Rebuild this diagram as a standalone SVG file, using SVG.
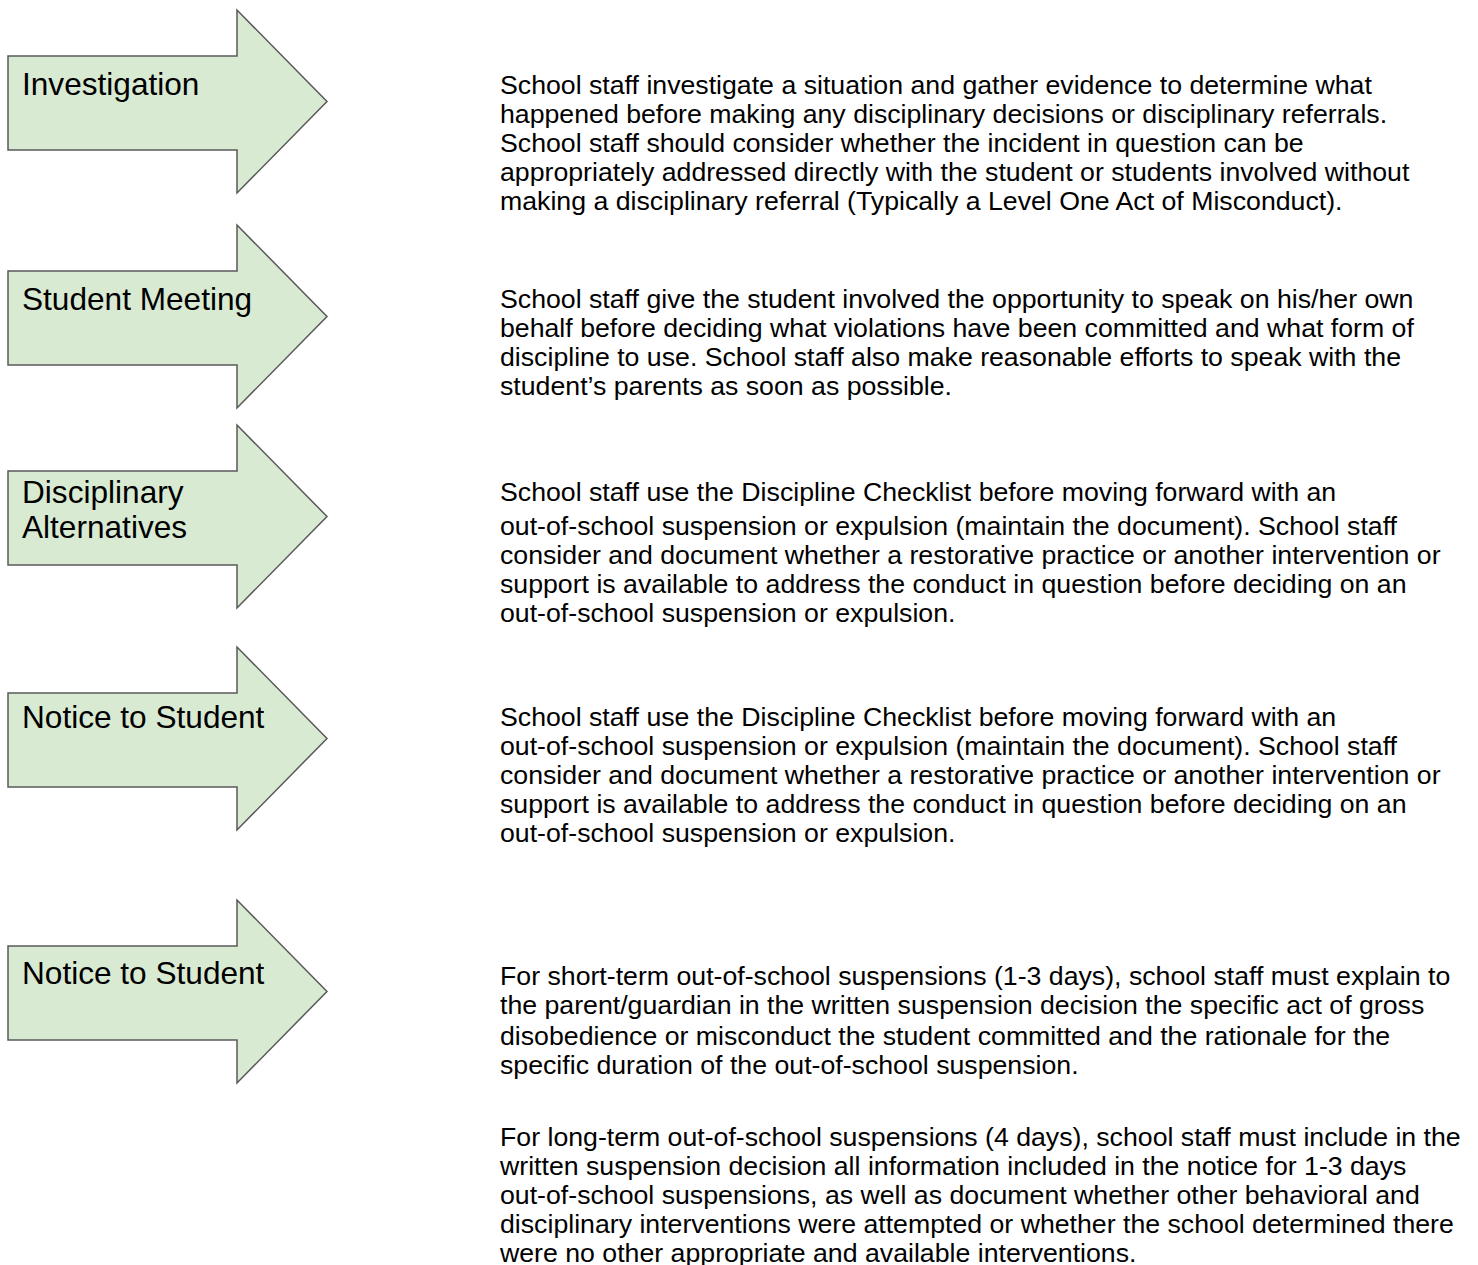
<svg xmlns="http://www.w3.org/2000/svg" width="1478" height="1265" viewBox="0 0 1478 1265">
<style>
.arrow{fill:#d9ead3;stroke:#595959;stroke-width:1.5;stroke-linejoin:miter}
.lbl{font-family:"Liberation Sans",Arial,sans-serif;font-size:31.6px;fill:#000}
.body{font-family:"Liberation Sans",Arial,sans-serif;font-size:26.7px;fill:#000}
</style>
<rect width="1478" height="1265" fill="#fff"/>
<defs>
<path id="arr" d="M8,46 H237 V0 L327,91.5 L237,183 V140 H8 Z"/>
</defs>
<g id="node-investigation">
<use href="#arr" class="arrow" x="0" y="10"/>
<text class="lbl" x="22" y="95">Investigation</text>
</g>
<g id="node-student-meeting">
<use href="#arr" class="arrow" x="0" y="225"/>
<text class="lbl" x="22" y="310">Student Meeting</text>
</g>
<g id="node-disciplinary-alternatives">
<use href="#arr" class="arrow" x="0" y="425"/>
<text class="lbl" x="22" y="503">Disciplinary</text>
<text class="lbl" x="22" y="538">Alternatives</text>
</g>
<g id="node-notice-1">
<use href="#arr" class="arrow" x="0" y="647"/>
<text class="lbl" x="22" y="728">Notice to Student</text>
</g>
<g id="node-notice-2">
<use href="#arr" class="arrow" x="0" y="900"/>
<text class="lbl" x="22" y="984">Notice to Student</text>
</g>
<g id="desc-investigation" class="body">
<text x="500" y="94">School staff investigate a situation and gather evidence to determine what</text>
<text x="500" y="123">happened before making any disciplinary decisions or disciplinary referrals.</text>
<text x="500" y="152">School staff should consider whether the incident in question can be</text>
<text x="500" y="181">appropriately addressed directly with the student or students involved without</text>
<text x="500" y="210">making a disciplinary referral (Typically a Level One Act of Misconduct).</text>
</g>
<g id="desc-student-meeting" class="body">
<text x="500" y="308">School staff give the student involved the opportunity to speak on his/her own</text>
<text x="500" y="337">behalf before deciding what violations have been committed and what form of</text>
<text x="500" y="366">discipline to use. School staff also make reasonable efforts to speak with the</text>
<text x="500" y="395">student’s parents as soon as possible.</text>
</g>
<g id="desc-disciplinary-alternatives" class="body">
<text x="500" y="501">School staff use the Discipline Checklist before moving forward with an</text>
<text x="500" y="535">out-of-school suspension or expulsion (maintain the document). School staff</text>
<text x="500" y="564">consider and document whether a restorative practice or another intervention or</text>
<text x="500" y="593">support is available to address the conduct in question before deciding on an</text>
<text x="500" y="622">out-of-school suspension or expulsion.</text>
</g>
<g id="desc-notice-1" class="body">
<text x="500" y="726">School staff use the Discipline Checklist before moving forward with an</text>
<text x="500" y="755">out-of-school suspension or expulsion (maintain the document). School staff</text>
<text x="500" y="784">consider and document whether a restorative practice or another intervention or</text>
<text x="500" y="813">support is available to address the conduct in question before deciding on an</text>
<text x="500" y="842">out-of-school suspension or expulsion.</text>
</g>
<g id="desc-notice-2" class="body">
<text x="500" y="985">For short-term out-of-school suspensions (1-3 days), school staff must explain to</text>
<text x="500" y="1014">the parent/guardian in the written suspension decision the specific act of gross</text>
<text x="500" y="1045">disobedience or misconduct the student committed and the rationale for the</text>
<text x="500" y="1074">specific duration of the out-of-school suspension.</text>
<text x="500" y="1146">For long-term out-of-school suspensions (4 days), school staff must include in the</text>
<text x="500" y="1175">written suspension decision all information included in the notice for 1-3 days</text>
<text x="500" y="1204">out-of-school suspensions, as well as document whether other behavioral and</text>
<text x="500" y="1233">disciplinary interventions were attempted or whether the school determined there</text>
<text x="500" y="1262">were no other appropriate and available interventions.</text>
</g>
<g id="connectors"></g>
</svg>
